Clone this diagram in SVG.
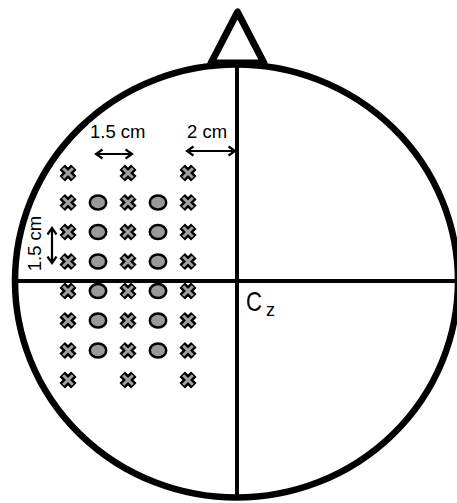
<svg xmlns="http://www.w3.org/2000/svg" xmlns:xlink="http://www.w3.org/1999/xlink" width="457" height="503" viewBox="0 0 457 503">
<style>
.lbl{font-family:"Liberation Sans",Arial,sans-serif;fill:#000}
.arr{stroke:#000;stroke-width:2.2;fill:none;marker-start:url(#ah);marker-end:url(#ah)}
.dot{fill:#999;stroke:#000;stroke-width:2.5}
</style>
<defs>
<marker id="ah" markerUnits="userSpaceOnUse" markerWidth="10" markerHeight="12" refX="7.5" refY="5" orient="auto-start-reverse" viewBox="0 0 10 10">
<path d="M1,0.5 L7.5,5 L1,9.5" fill="none" stroke="#000" stroke-width="2.2"/>
</marker>
<g id="xm">
<path d="M-5.8,-5.8 L5.8,5.8 M-5.8,5.8 L5.8,-5.8" stroke="#000" stroke-width="7.8"/>
<path d="M-4.8,-4.8 L4.8,4.8 M-4.8,4.8 L4.8,-4.8" stroke="#a0a0a0" stroke-width="3"/>
</g>
</defs>
<rect width="457" height="503" fill="#fff"/>
<g id="head">
<polygon points="237.5,12 211,63 264,63" fill="none" stroke="#000" stroke-width="7" stroke-linejoin="round"/>
<ellipse cx="236.5" cy="281" rx="221.5" ry="216.5" fill="none" stroke="#000" stroke-width="6.5"/>
<line x1="237" y1="63" x2="237" y2="497" stroke="#000" stroke-width="4"/>
<line x1="15" y1="281" x2="458" y2="281" stroke="#000" stroke-width="4"/>
</g>
<g id="electrodes">
<use xlink:href="#xm" x="68" y="173"/><use xlink:href="#xm" x="128" y="173"/><use xlink:href="#xm" x="188" y="173"/>
<use xlink:href="#xm" x="68" y="202.5"/><use xlink:href="#xm" x="128" y="202.5"/><use xlink:href="#xm" x="188" y="202.5"/>
<use xlink:href="#xm" x="68" y="232"/><use xlink:href="#xm" x="128" y="232"/><use xlink:href="#xm" x="188" y="232"/>
<use xlink:href="#xm" x="68" y="261.5"/><use xlink:href="#xm" x="128" y="261.5"/><use xlink:href="#xm" x="188" y="261.5"/>
<use xlink:href="#xm" x="68" y="291"/><use xlink:href="#xm" x="128" y="291"/><use xlink:href="#xm" x="188" y="291"/>
<use xlink:href="#xm" x="68" y="320.5"/><use xlink:href="#xm" x="128" y="320.5"/><use xlink:href="#xm" x="188" y="320.5"/>
<use xlink:href="#xm" x="68" y="350.5"/><use xlink:href="#xm" x="128" y="350.5"/><use xlink:href="#xm" x="188" y="350.5"/>
<use xlink:href="#xm" x="68" y="380"/><use xlink:href="#xm" x="128" y="380"/><use xlink:href="#xm" x="188" y="380"/>
<ellipse class="dot" cx="98" cy="202.5" rx="8.2" ry="7"/><ellipse class="dot" cx="158" cy="202.5" rx="8.2" ry="7"/>
<ellipse class="dot" cx="98" cy="232" rx="8.2" ry="7"/><ellipse class="dot" cx="158" cy="232" rx="8.2" ry="7"/>
<ellipse class="dot" cx="98" cy="261.5" rx="8.2" ry="7"/><ellipse class="dot" cx="158" cy="261.5" rx="8.2" ry="7"/>
<ellipse class="dot" cx="98" cy="291" rx="8.2" ry="7"/><ellipse class="dot" cx="158" cy="291" rx="8.2" ry="7"/>
<ellipse class="dot" cx="98" cy="320.5" rx="8.2" ry="7"/><ellipse class="dot" cx="158" cy="320.5" rx="8.2" ry="7"/>
<ellipse class="dot" cx="98" cy="350.5" rx="8.2" ry="7"/><ellipse class="dot" cx="158" cy="350.5" rx="8.2" ry="7"/>
</g>
<g id="connectors">
<line class="arr" x1="96" y1="154" x2="132" y2="154"/>
<line class="arr" x1="187" y1="151" x2="235" y2="151"/>
<line class="arr" x1="52" y1="228" x2="52" y2="263"/>
</g>
<g id="labels">
<text class="lbl" x="90" y="138" font-size="18.5">1.5 cm</text>
<text class="lbl" x="187" y="138" font-size="18.5">2 cm</text>
<text class="lbl" transform="translate(41,243.5) rotate(-90)" text-anchor="middle" font-size="18.5">1.5 cm</text>
<text class="lbl" x="246" y="311" font-size="28" textLength="16" lengthAdjust="spacingAndGlyphs">C</text>
<text class="lbl" x="266" y="316" font-size="18" textLength="9" lengthAdjust="spacingAndGlyphs">z</text>
</g>
</svg>
